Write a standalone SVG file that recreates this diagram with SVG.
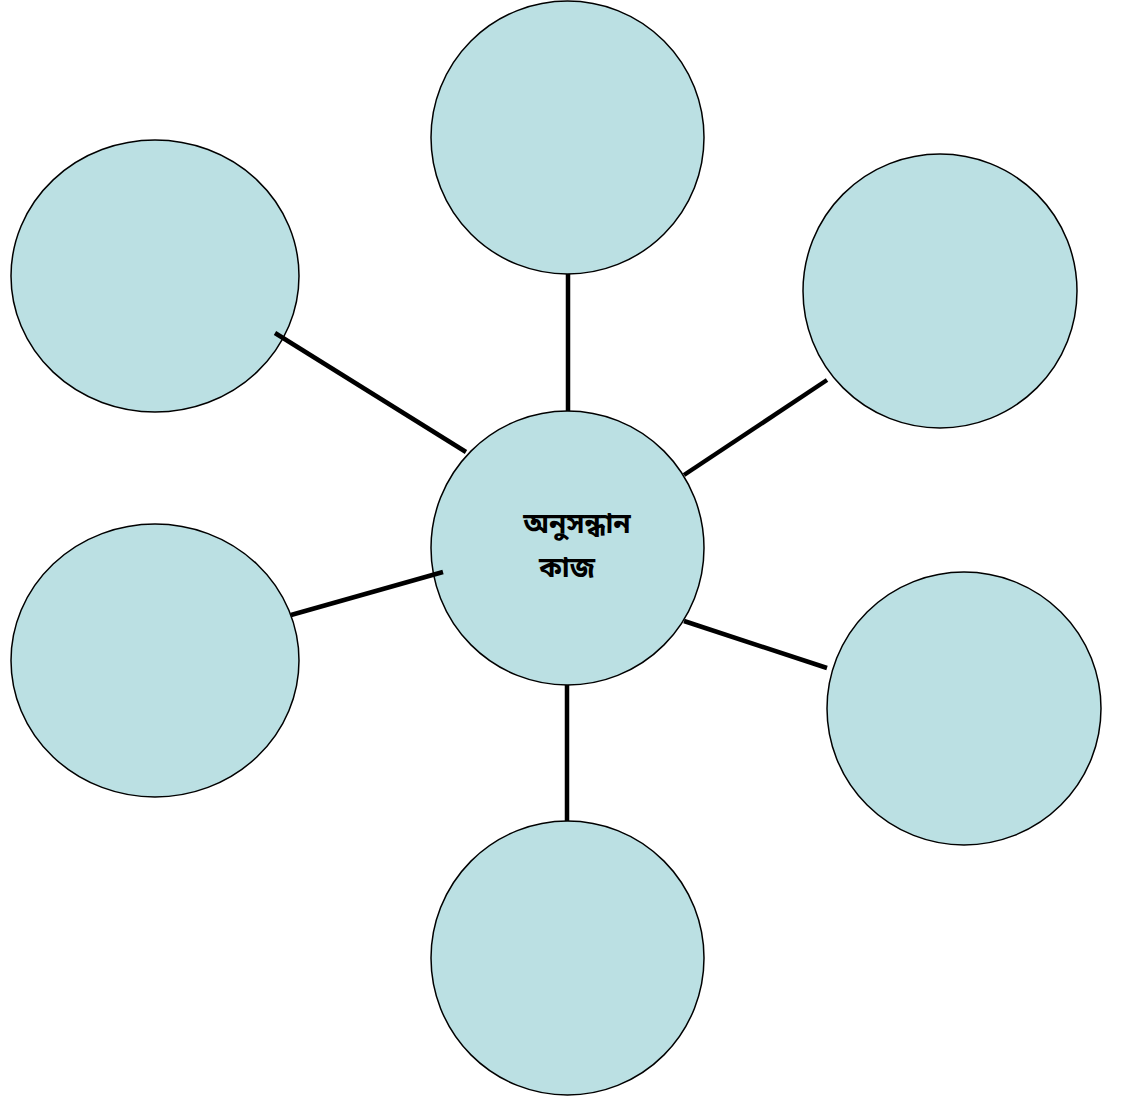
<svg xmlns="http://www.w3.org/2000/svg" width="1121" height="1101" viewBox="0 0 1121 1101">
  <style>
    .node { fill: #bbe0e3; stroke: #000; stroke-width: 1.5; }
    .link { stroke: #000; stroke-width: 4.5; fill: none; }
    .label { font-family: "Noto Sans Bengali", "Noto Serif Bengali", "Lohit Bengali", "FreeSerif", "Noto Sans", sans-serif; font-size: 28px; font-weight: bold; fill: #000; text-anchor: middle; }
  </style>
  <rect width="1121" height="1101" fill="#fff"/>
  <g id="node-top"><ellipse class="node" cx="567.5" cy="137.5" rx="136.5" ry="136.5"/></g>
  <g id="node-top-left"><ellipse class="node" cx="155" cy="276" rx="144" ry="136"/></g>
  <g id="node-top-right"><ellipse class="node" cx="940" cy="291" rx="137" ry="137"/></g>
  <g id="node-left"><ellipse class="node" cx="155" cy="660.5" rx="144" ry="136.5"/></g>
  <g id="node-right"><ellipse class="node" cx="964" cy="708.5" rx="137" ry="136.5"/></g>
  <g id="node-bottom"><ellipse class="node" cx="567.5" cy="958" rx="136.5" ry="137"/></g>
  <g id="node-center">
    <ellipse class="node" cx="567.5" cy="548" rx="136.5" ry="137"/>
    <text class="label" x="577" y="533">অনুসন্ধান</text>
    <text class="label" x="567" y="577">কাজ</text>
  </g>
  <g id="connectors">
    <line class="link" x1="568" y1="274" x2="568" y2="411"/>
    <line class="link" x1="275" y1="333" x2="466" y2="452"/>
    <line class="link" x1="684" y1="475" x2="827" y2="380"/>
    <line class="link" x1="291" y1="615" x2="443" y2="572"/>
    <line class="link" x1="684" y1="621" x2="827" y2="668"/>
    <line class="link" x1="567" y1="685" x2="567" y2="821"/>
  </g>
</svg>
